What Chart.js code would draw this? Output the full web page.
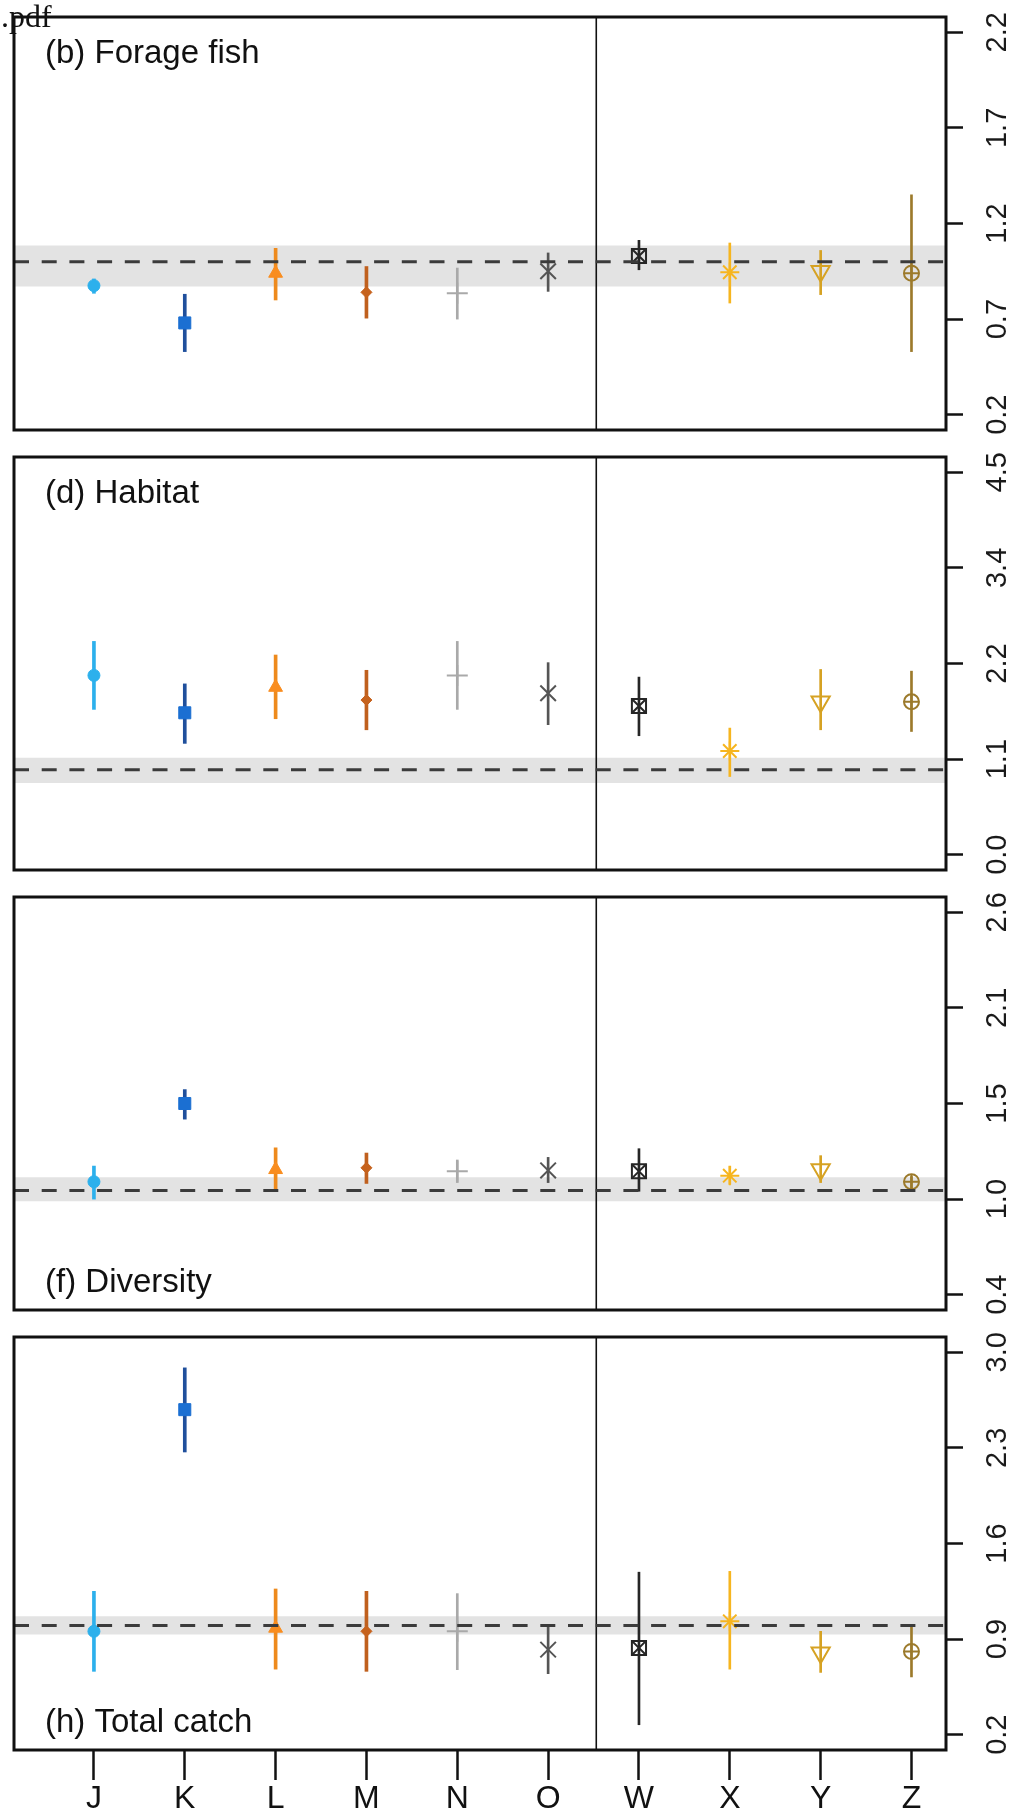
<!DOCTYPE html>
<html>
<head>
<meta charset="UTF-8">
<title>Forage fish, habitat, diversity and total catch</title>
<!-- Chart.js library -->
<script src="https://cdn.jsdelivr.net/npm/chart.js"></script>

<style>
    body { margin: 0; background: #fff; }
    #figure { position: relative; width: 1012px; height: 1816px; overflow: hidden; }
    .panel { position: absolute; left: 0; width: 1012px; }
    .panel canvas { display: block; }
    /* leftover file name in the top corner */
    #fileTag { position: absolute; left: 1px; top: 1px; z-index: 2; font-family: "Liberation Serif", serif; font-size: 32px; line-height: 30px; color: #111; }
</style>
</head>
<body>
<div id="figure">
    <div id="fileTag">.pdf</div>
    <div class="panel" style="top: 0px;"><canvas id="panel0" width="1012" height="440"></canvas></div>
    <div class="panel" style="top: 440px;"><canvas id="panel1" width="1012" height="440"></canvas></div>
    <div class="panel" style="top: 880px;"><canvas id="panel2" width="1012" height="440"></canvas></div>
    <div class="panel" style="top: 1320px;"><canvas id="panel3" width="1012" height="496"></canvas></div>
</div>

<script>
    // Categories on the x axis (six left of the divider, four right of it)
    const categories = ['J', 'K', 'L', 'M', 'N', 'O', 'W', 'X', 'Y', 'Z'];
    const panelTitles = ['(b) Forage fish', '(d) Habitat', '(f) Diversity', '(h) Total catch'];

    // (b) Forage fish: estimate and interval ends
    const forageMean = [0.875, 0.68, 0.94, 0.84, 0.835, 0.95, 1.03, 0.945, 0.95, 0.94];
    const forageLow  = [0.835, 0.53, 0.80, 0.705, 0.70, 0.845, 0.958, 0.784, 0.828, 0.53];
    const forageHigh = [0.91, 0.83, 1.07, 0.975, 0.967, 1.046, 1.112, 1.098, 1.059, 1.35];

    // (d) Habitat
    const habitatMean = [2.11, 1.67, 1.97, 1.82, 2.11, 1.90, 1.75, 1.22, 1.80, 1.80];
    const habitatLow  = [1.71, 1.31, 1.60, 1.47, 1.71, 1.53, 1.40, 0.92, 1.47, 1.45];
    const habitatHigh = [2.51, 2.01, 2.35, 2.17, 2.51, 2.26, 2.09, 1.49, 2.18, 2.16];

    // (f) Diversity
    const diversityMean = [1.05, 1.50, 1.12, 1.13, 1.11, 1.115, 1.11, 1.085, 1.12, 1.05];
    const diversityLow  = [0.95, 1.41, 0.995, 1.04, 1.045, 1.045, 0.995, 1.035, 1.045, 0.995];
    const diversityHigh = [1.14, 1.58, 1.245, 1.215, 1.175, 1.19, 1.24, 1.14, 1.20, 1.08];

    // (h) Total catch
    const catchMean = [0.957, 2.58, 0.98, 0.957, 0.957, 0.823, 0.835, 1.03, 0.80, 0.81];
    const catchLow  = [0.664, 2.27, 0.68, 0.664, 0.676, 0.647, 0.273, 0.68, 0.656, 0.623];
    const catchHigh = [1.25, 2.886, 1.267, 1.25, 1.233, 0.993, 1.39, 1.396, 0.957, 1.00];

    // Reference value and shaded band for each panel
    const refLine  = [1.0, 1.0, 1.0, 1.0];
    const bandLow  = [0.87, 0.845, 0.937, 0.933];
    const bandHigh = [1.085, 1.14, 1.075, 1.067];

    // y limits and the printed labels of the five ticks
    const axisMin = [0.2, 0.0, 0.4, 0.2];
    const axisMax = [2.2, 4.5, 2.6, 3.0];
    const tickLabels = [
        ['0.2', '0.7', '1.2', '1.7', '2.2'],
        ['0.0', '1.1', '2.2', '3.4', '4.5'],
        ['0.4', '1.0', '1.5', '2.1', '2.6'],
        ['0.2', '0.9', '1.6', '2.3', '3.0']
    ];

    // x limits and the divider between the two groups
    const xLimits = [0.5, 10];
    const dividerAt = 6.53;

    // Look of each category's marker and interval
    const pointColors = ['#2cb0ec', '#1b6fd2', '#f98d1f', '#c6621d', '#a9a9a9', '#555555', '#262626', '#f6b51f', '#d6a223', '#9c7a2b'];
    const barColors   = ['#2cb0ec', '#1f4f9c', '#ee8a1c', '#c0601e', '#a9a9a9', '#555555', '#262626', '#f6b51f', '#d6a223', '#9c7a2b'];
    const pointShapes = ['circle', 'rect', 'triangle', 'rectRot', 'cross', 'crossRot', 'rect', 'star', 'triangle', 'circle'];
    const pointSizes  = [6, 8.5, 8, 5.5, 10.5, 11, 10, 9.5, 10.5, 7.5];
    const pointTurns  = [0, 0, 0, 0, 0, 0, 0, 0, 180, 0];
    const pointSolid  = [true, true, true, true, false, false, false, false, false, false];
    const barWidths   = [3, 3, 3, 3, 2, 2, 2, 2, 2, 2];
    // second stroke drawn inside the W (box with x) and Z (circle with +) markers
    const innerShapes = [null, null, null, null, null, null, 'crossRot', null, null, 'cross'];

    const panels = [
        { mean: forageMean, low: forageLow, high: forageHigh },
        { mean: habitatMean, low: habitatLow, high: habitatHigh },
        { mean: diversityMean, low: diversityLow, high: diversityHigh },
        { mean: catchMean, low: catchLow, high: catchHigh }
    ];
    const titleAtTop = [true, true, false, false];

    // R style axis range: limits stretched by 4% on both ends
    function extend(lo, hi) {
        const e = (hi - lo) * 0.04;
        return [lo - e, hi + e];
    }
    const [xLo, xHi] = extend(xLimits[0], xLimits[1]);

    // Box around the plotting region
    const frame = {
        id: 'frame',
        afterDraw(chart) {
            const { ctx, chartArea } = chart;
            ctx.save();
            ctx.strokeStyle = '#111';
            ctx.lineWidth = 3;
            ctx.strokeRect(chartArea.left, chartArea.top, chartArea.right - chartArea.left, chartArea.bottom - chartArea.top);
            ctx.restore();
        }
    };

    // Panel letter and name written inside the plot
    const panelTitle = {
        id: 'panelTitle',
        afterDraw(chart, args, opts) {
            const { ctx, chartArea } = chart;
            ctx.save();
            ctx.font = '33px "Liberation Sans", Arial, sans-serif';
            ctx.fillStyle = '#111';
            ctx.textBaseline = 'alphabetic';
            const y = opts.top ? chartArea.top + 46 : chartArea.bottom - 18;
            ctx.fillText(opts.text, chartArea.left + 31, y);
            ctx.restore();
        }
    };

    panels.forEach((panel, p) => {
        const isLast = p === panels.length - 1;
        const [yLo, yHi] = extend(axisMin[p], axisMax[p]);
        const tickValues = [0, 1, 2, 3, 4].map(k => axisMin[p] + k * (axisMax[p] - axisMin[p]) / 4);

        // intervals, split by drawn thickness
        const intervals = width => categories
            .map((c, i) => ({ x: i + 1, y: [panel.low[i], panel.high[i]], i: i }))
            .filter(d => barWidths[d.i] === width);

        const composite = categories.map((c, i) => i).filter(i => innerShapes[i]);

        const ctx = document.getElementById('panel' + p).getContext('2d');
        new Chart(ctx, {
            type: 'scatter',
            data: {
                datasets: [
                    {   // shaded band, upper edge (filled down to the next dataset)
                        type: 'line',
                        data: [{ x: xLo, y: bandHigh[p] }, { x: xHi, y: bandHigh[p] }],
                        borderWidth: 0,
                        pointRadius: 0,
                        backgroundColor: '#e3e3e3',
                        fill: '+1',
                        order: 10
                    },
                    {   // shaded band, lower edge
                        type: 'line',
                        data: [{ x: xLo, y: bandLow[p] }, { x: xHi, y: bandLow[p] }],
                        borderWidth: 0,
                        pointRadius: 0,
                        fill: false,
                        order: 10
                    },
                    {   // divider between the two groups
                        type: 'line',
                        data: [{ x: dividerAt, y: yLo }, { x: dividerAt, y: yHi }],
                        borderColor: '#111',
                        borderWidth: 1.6,
                        pointRadius: 0,
                        order: 8
                    },
                    {
                        type: 'bar',
                        data: intervals(3),
                        barThickness: 3,
                        grouped: false,
                        backgroundColor: c => c.raw ? barColors[c.raw.i] : '#000',
                        borderWidth: 0,
                        order: 5
                    },
                    {
                        type: 'bar',
                        data: intervals(2),
                        barThickness: 2,
                        grouped: false,
                        backgroundColor: c => c.raw ? barColors[c.raw.i] : '#000',
                        borderWidth: 0,
                        order: 5
                    },
                    {   // point estimates
                        type: 'scatter',
                        data: categories.map((c, i) => ({ x: i + 1, y: panel.mean[i] })),
                        pointStyle: pointShapes,
                        pointRadius: pointSizes,
                        pointRotation: pointTurns,
                        pointBackgroundColor: pointColors.map((col, i) => pointSolid[i] ? col : 'rgba(0,0,0,0)'),
                        pointBorderColor: pointColors,
                        pointBorderWidth: pointSolid.map(s => s ? 1 : 2),
                        order: 2
                    },
                    {   // inner strokes of the composite markers
                        type: 'scatter',
                        data: composite.map(i => ({ x: i + 1, y: panel.mean[i] })),
                        pointStyle: composite.map(i => innerShapes[i]),
                        pointRadius: composite.map(i => pointSizes[i]),
                        pointBackgroundColor: 'rgba(0,0,0,0)',
                        pointBorderColor: composite.map(i => pointColors[i]),
                        pointBorderWidth: 2,
                        order: 1
                    },
                    {   // dashed reference line, drawn over the marks
                        type: 'line',
                        data: [{ x: xLo, y: refLine[p] }, { x: xHi, y: refLine[p] }],
                        borderColor: '#3b3b3b',
                        borderWidth: 3,
                        borderDash: [15, 12.7],
                        pointRadius: 0,
                        order: 0
                    }
                ]
            },
            options: {
                responsive: false,
                animation: false,
                events: [],
                layout: {
                    autoPadding: false,
                    padding: { left: 14, right: 0, top: 17, bottom: isLast ? 0 : 10 }
                },
                plugins: {
                    legend: { display: false },
                    tooltip: { enabled: false },
                    panelTitle: { text: panelTitles[p], top: titleAtTop[p] }
                },
                scales: {
                    x: {
                        type: 'linear',
                        min: xLo,
                        max: xHi,
                        offset: false,
                        display: isLast,
                        afterBuildTicks: scale => { scale.ticks = categories.map((c, i) => ({ value: i + 1 })); },
                        afterFit: scale => {
                            scale.height = isLast ? 66 : 0;
                            scale.paddingLeft = 0; scale.paddingRight = 0;
                        },
                        grid: { offset: false, drawOnChartArea: false, tickLength: 30, tickWidth: 2.5, tickColor: '#111' },
                        border: { display: false },
                        ticks: {
                            autoSkip: false,
                            maxRotation: 0,
                            padding: 0,
                            color: '#111',
                            font: { family: 'Liberation Sans', size: 32 },
                            callback: (v, idx) => categories[idx]
                        }
                    },
                    y: {
                        type: 'linear',
                        position: 'right',
                        min: yLo,
                        max: yHi,
                        afterBuildTicks: scale => { scale.ticks = tickValues.map(v => ({ value: v })); },
                        afterFit: scale => {
                            scale.width = 66;
                            scale.paddingTop = 0; scale.paddingBottom = 0;
                        },
                        grid: { drawOnChartArea: false, tickLength: 17, tickWidth: 2.5, tickColor: '#111' },
                        border: { display: false },
                        ticks: {
                            autoSkip: false,
                            minRotation: 90,
                            maxRotation: 90,
                            crossAlign: 'center',
                            padding: 15,
                            color: '#1a1a1a',
                            font: { family: 'Liberation Sans', size: 29 },
                            callback: (v, idx) => tickLabels[p][idx]
                        }
                    }
                }
            },
            plugins: [frame, panelTitle]
        });
    });
</script>
</body>
</html>
